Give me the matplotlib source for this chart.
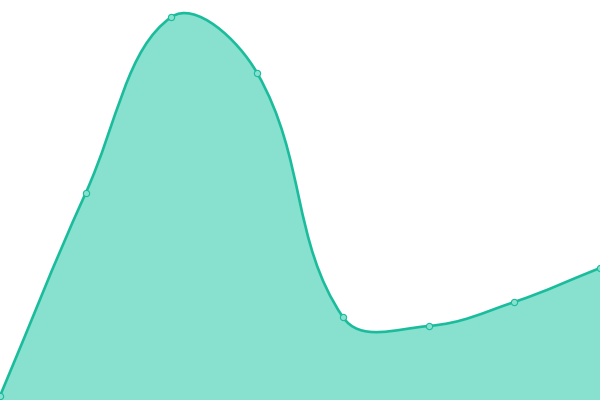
import numpy as np
import matplotlib
matplotlib.use("Agg")
import matplotlib.pyplot as plt
from matplotlib.path import Path
from matplotlib.patches import PathPatch

# data
labels = ["A", "B", "C", "D", "E", "F", "G", "H"]
values = [4, 207, 383, 327, 83, 74, 98, 132]

line_color = "#1abc9c"
fill_color = "#88e0cf"
tension = 0.4


def spline_controls(pts, t):
    # cardinal-style control points, same idea as chart.js splineCurve
    ctrl = []
    n = len(pts)
    for i in range(n):
        prev = pts[max(i - 1, 0)]
        cur = pts[i]
        nxt = pts[min(i + 1, n - 1)]
        d01 = np.hypot(*(cur - prev))
        d12 = np.hypot(*(nxt - cur))
        tot = d01 + d12
        s01 = d01 / tot if tot else 0
        s12 = d12 / tot if tot else 0
        fa = t * s01
        fb = t * s12
        ctrl.append((cur - fa * (nxt - prev), cur + fb * (nxt - prev)))
    return ctrl


fig = plt.figure(figsize=(6, 4), dpi=100)
ax = fig.add_axes([0, 0, 1, 1])
ax.set_xlim(0, len(values) - 1)
ax.set_ylim(0, 400)
ax.axis("off")

x = np.arange(len(values))
pix = ax.transData.transform(np.column_stack([x, values]))
ctrl = spline_controls(pix, tension)

verts = [pix[0]]
codes = [Path.MOVETO]
for i in range(len(pix) - 1):
    verts += [ctrl[i][1], ctrl[i + 1][0], pix[i + 1]]
    codes += [Path.CURVE4] * 3
inv = ax.transData.inverted()
curve = inv.transform(np.array(verts))

# filled area down to zero
fill_verts = list(curve) + [(x[-1], 0), (x[0], 0), curve[0]]
fill_codes = codes + [Path.LINETO, Path.LINETO, Path.CLOSEPOLY]
ax.add_patch(PathPatch(Path(fill_verts, fill_codes), facecolor=fill_color,
                       edgecolor="none", clip_on=False))
ax.add_patch(PathPatch(Path(curve, codes), facecolor="none", edgecolor=line_color,
                       linewidth=1.9, clip_on=False))
ax.plot(x, values, "o", markersize=4.5, markerfacecolor=fill_color,
        markeredgecolor=line_color, markeredgewidth=0.8, clip_on=False)

fig.savefig("out.png", dpi=100)
